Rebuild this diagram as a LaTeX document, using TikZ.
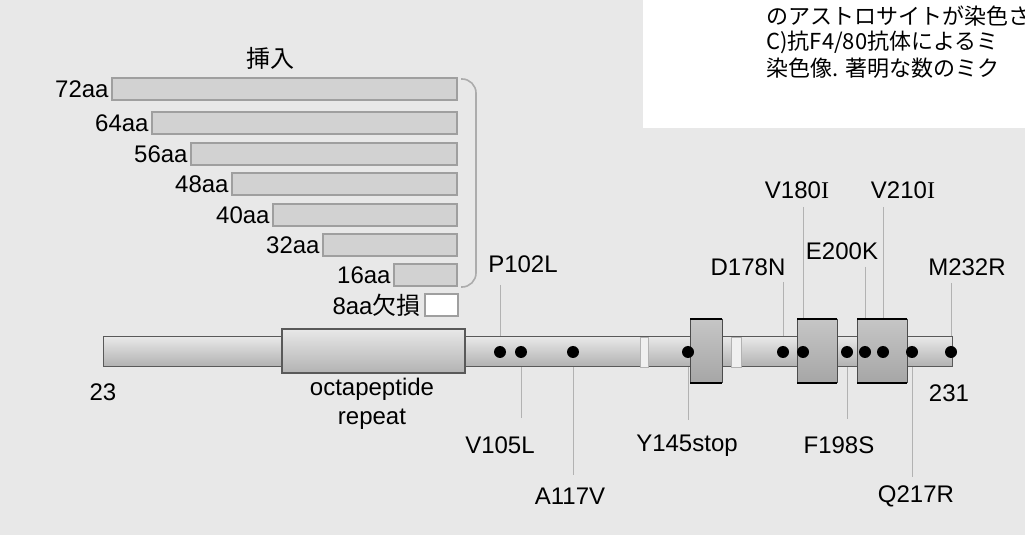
\documentclass[tikz,border=0pt]{standalone}
\usepackage{fontspec}
\setmainfont{Liberation Sans}
\newfontfamily\jp{Noto Sans CJK JP}
\newfontfamily\serifI{Liberation Serif}
\usepackage{tikz}

\begin{document}
\begin{tikzpicture}[x=0.5pt, y=-0.5pt,
    lbl/.style={inner sep=0pt, font=\fontsize{12}{14}\selectfont},
    insbar/.style={fill=gray!35, draw=gray!75, line width=0.6pt},
    lead/.style={draw=gray!60, line width=0.5pt},
    mut/.style={circle, fill=black, inner sep=0pt, minimum size=6pt}]

    \useasboundingbox (0,0) rectangle (1025,535);
    \fill[black!9] (0,0) rectangle (1025,535);
    \fill[white] (643,0) rectangle (1025,128);

    % caption of the page, cut at the right edge
    \node[lbl, anchor=west, font=\jp\fontsize{11}{13}\selectfont] (cap1) at (766,16) {のアストロサイトが染色さ};
    \node[lbl, anchor=west, font=\jp\fontsize{11}{13}\selectfont] (cap2) at (766,42) {C)抗F4/80抗体によるミ};
    \node[lbl, anchor=west, font=\jp\fontsize{11}{13}\selectfont] (cap3) at (766,68) {染色像. 著明な数のミク};

    % insertions
    \node[lbl, font=\jp\fontsize{12}{14}\selectfont] (ins) at (270,58) {挿入};
    \foreach \len/\xl/\yc in {72/112/89, 64/152/123, 56/191/154, 48/232/184, 40/273/215, 32/323/245, 16/394/275}
    {
        \draw[insbar] (\xl,\yc-11) rectangle (457,\yc+11);
        \node[lbl, anchor=east] (aa\len) at (\xl-3,\yc) {\len aa};
    }
    \draw[rounded corners=7pt, gray!65, line width=0.8pt]
        (461,79) -- (476,79) -- (476,287) -- (461,287);

    % deletion
    \draw[fill=white, draw=gray!75, line width=0.6pt] (425,294) rectangle (458,316);
    \node[lbl, anchor=east] (del8) at (421,305) {8aa{\jp 欠損}};

    % mutation sites
    \foreach \m/\x in {102/500, 105/521, 117/573, 145/688, 178/783, 180/803,
                       198/847, 200/865, 210/883, 217/912, 232/951}
    {
        \coordinate (p\m) at (\x,352);
    }

    \foreach \m/\lx/\ly/\g/\t in {102/523/273/6/P102L, 178/748/276/3/D178N,
        180/797/199/4/V180{\serifI I}, 200/842/260/3.5/E200K,
        210/903/199/4/V210{\serifI I}, 232/967/276/3.5/M232R}
    {
        \node[lbl, anchor=south] (m\m) at (\lx,\ly) {\t};
        \draw[lead, shorten <=\g pt] (p\m |- m\m.south) -- (p\m);
    }

    \foreach \m/\lx/\ly/\g/\t in {105/500/436/9/V105L, 117/570/488/6.5/A117V,
        145/687/435/7.5/Y145stop, 198/839/436/8.5/F198S, 217/916/485/4/Q217R}
    {
        \node[lbl, anchor=north] (m\m) at (\lx,\ly) {\t};
        \draw[lead, shorten >=\g pt] (p\m) -- (p\m |- m\m.north);
    }

    % the protein
    \draw[top color=gray!18, bottom color=gray!62, draw=gray!70!black, line width=0.5pt]
        (103,337) rectangle (952,367);
    \draw[top color=gray!18, bottom color=gray!60, draw=gray!70!black, line width=0.6pt]
        (282,329) rectangle (465,373);

    \foreach \a/\b in {640/648, 731/741}
    {
        \draw[fill=gray!12, draw=gray!60, line width=0.4pt] (\a,337) rectangle (\b,367);
    }

    \foreach \a/\b in {690/722, 797/837, 857/907}
    {
        \fill[top color=gray!45, bottom color=gray!70] (\a,319) rectangle (\b,383);
        \draw[gray!60!black, line width=0.4pt] (\a,319) -- (\a,383) (\b,319) -- (\b,383);
        \draw[line width=1.2pt] (\a,319) -- (\b,319) (\a,383) -- (\b,383);
    }

    \foreach \m in {102,105,117,145,178,180,198,200,210,217,232}
    {
        \node[mut] (dot\m) at (p\m) {};
    }

    \node[lbl] (n23) at (103,392) {23};
    \node[lbl] (n231) at (949,393) {231};
    \node[lbl, align=center, font=\fontsize{12}{14.5}\selectfont] (octa) at (372,404) {octapeptide\\repeat};

\end{tikzpicture}
\end{document}
